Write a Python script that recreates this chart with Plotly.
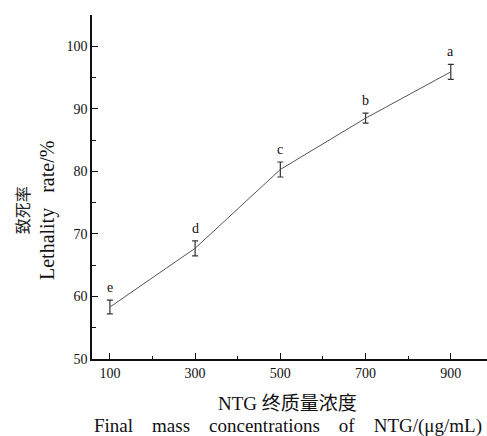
import plotly.graph_objects as go

concentrations = [100, 300, 500, 700, 900]
lethality = [58.3, 67.7, 80.3, 88.5, 95.9]
errors = [1.1, 1.2, 1.2, 0.8, 1.2]
letters = ["e", "d", "c", "b", "a"]
x_ticks = [100, 300, 500, 700, 900]
y_ticks = [50, 60, 70, 80, 90, 100]

SERIF = "Liberation Serif, Times New Roman, serif"
CJK = "Noto Sans CJK SC"
GAP = "&nbsp;&nbsp;&nbsp; "

fig = go.Figure()
fig.add_trace(go.Scatter(
    x=concentrations, y=lethality, mode="lines",
    line=dict(color="#555555", width=1),
    error_y=dict(type="data", array=errors, visible=True,
                 color="#333333", thickness=1.2, width=3),
    showlegend=False, hoverinfo="skip"))

for xv, yv, e, t in zip(concentrations, lethality, errors, letters):
    fig.add_annotation(x=xv, y=yv + e, text=t, showarrow=False,
                       yanchor="bottom", yshift=3,
                       font=dict(family=SERIF, size=14, color="#111111"))

fig.update_xaxes(range=[58, 985], tickvals=x_ticks, ticktext=[str(v) for v in x_ticks],
                 ticks="inside", ticklen=6, tickwidth=1, tickcolor="#111",
                 showline=True, linecolor="#111", linewidth=1.5,
                 showgrid=False, zeroline=False,
                 tickfont=dict(family=SERIF, size=14, color="#111"),
                 minor=dict(tickvals=[200, 400, 600, 800], ticks="inside",
                            ticklen=3, tickcolor="#111", tickwidth=1))
fig.update_yaxes(range=[50, 105], tickvals=y_ticks, ticktext=[str(v) for v in y_ticks],
                 ticks="inside", ticklen=6, tickwidth=1, tickcolor="#111",
                 showline=True, linecolor="#111", linewidth=1.5,
                 showgrid=False, zeroline=False,
                 tickfont=dict(family=SERIF, size=14, color="#111"),
                 minor=dict(tickvals=[55, 65, 75, 85, 95, 105], ticks="inside",
                            ticklen=4, tickcolor="#111", tickwidth=1))

fig.add_annotation(xref="paper", yref="paper", x=-0.177, y=0.433,
                   xanchor="center", yanchor="middle",
                   text="致死率", textangle=-90, showarrow=False,
                   font=dict(family=CJK, size=16, color="#222"))
fig.add_annotation(xref="paper", yref="paper", x=-0.114, y=0.433,
                   xanchor="center", yanchor="middle",
                   text="Lethality&nbsp;&nbsp; rate/%", textangle=-90, showarrow=False,
                   font=dict(family=SERIF, size=20, color="#111"))
fig.add_annotation(xref="paper", yref="paper", x=0.496, y=-0.128,
                   xanchor="center", yanchor="middle",
                   text="NTG 终质量浓度", showarrow=False,
                   font=dict(family=SERIF + ", " + CJK, size=19, color="#111"))
fig.add_annotation(xref="paper", yref="paper", x=0.496, y=-0.194,
                   xanchor="center", yanchor="middle",
                   text="Final" + GAP + "mass" + GAP + "concentrations" + GAP + "of" + GAP + "NTG/(μg/mL)",
                   showarrow=False,
                   font=dict(family=SERIF, size=19, color="#111"))

fig.update_layout(width=487, height=436,
                  margin=dict(l=92, r=0, t=15, b=77),
                  paper_bgcolor="white", plot_bgcolor="white")

fig.write_html("out.html")
